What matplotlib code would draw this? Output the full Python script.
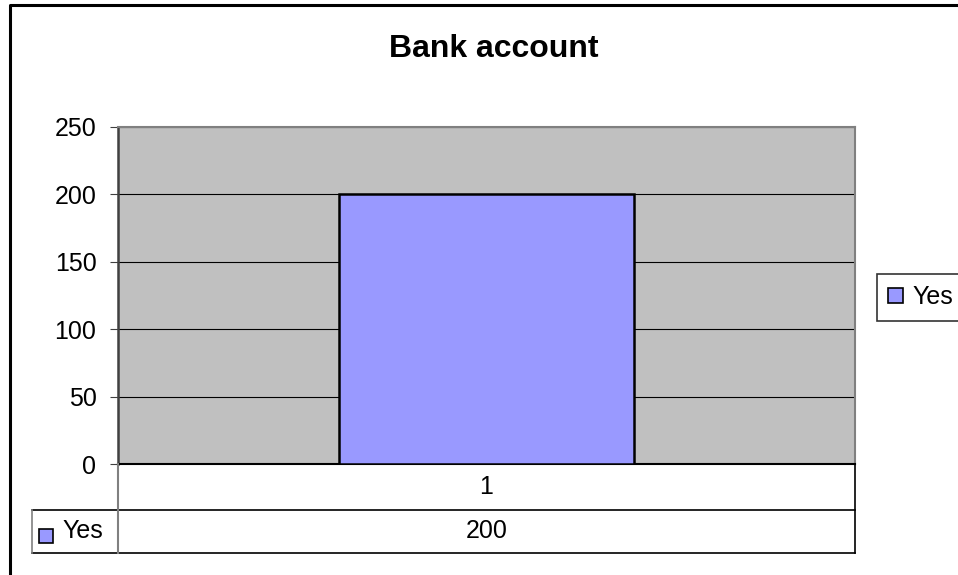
import matplotlib
matplotlib.use("Agg")
import matplotlib.pyplot as plt
from matplotlib.patches import Rectangle
from matplotlib.lines import Line2D

plt.rcParams['font.family'] = ['Liberation Sans', 'DejaVu Sans']

# Data
title = "Bank account"
categories = ["1"]
series_name = "Yes"
values = [200]
y_ticks = [0, 50, 100, 150, 200, 250]

W, H = 958, 575
DPI = 100
BAR_COLOR = "#9999FF"
PLOT_BG = "#C0C0C0"

fig = plt.figure(figsize=(W / DPI, H / DPI), dpi=DPI)
fig.patch.set_facecolor("white")

def fx(px):
    return px / W

def fy(py):
    return 1 - py / H

# Plot area in pixel bounds
L, R, T, B = 118, 855, 127, 464
ax = fig.add_axes([fx(L), fy(B), fx(R - L), (B - T) / H])
ax.set_facecolor(PLOT_BG)
x = list(range(1, len(categories) + 1))
bars = ax.bar(x, values, width=0.4, color=BAR_COLOR, edgecolor="black",
              linewidth=1.8, zorder=3, label=series_name)
ax.set_xlim(0.5, len(categories) + 0.5)
ax.set_ylim(y_ticks[0], y_ticks[-1])
ax.set_yticks(y_ticks)
ax.set_xticks([])
ax.yaxis.grid(True, color="black", linewidth=0.8, zorder=1)
ax.set_axisbelow(True)
ax.tick_params(axis="y", length=6, width=0.8, pad=9.5, labelsize=18,
               color="#404040")
for side in ("top", "right"):
    ax.spines[side].set_color("#808080")
    ax.spines[side].set_linewidth(1.5)
ax.spines["left"].set_color("#404040")
ax.spines["left"].set_linewidth(1.8)
ax.spines["bottom"].set_color("black")
ax.spines["bottom"].set_linewidth(1.5)

# Overlay in pixel coordinates for the frame and data table
ov = fig.add_axes([0, 0, 1, 1], zorder=-1)
ov.set_xlim(0, W)
ov.set_ylim(H, 0)
ov.axis("off")

# Chart area border (left and top edges)
ov.add_line(Line2D([10, 10, W + 5], [H + 5, 5, 5], color="black", linewidth=2.2))

# Data table
tab = fig.add_axes([0, 0, 1, 1], zorder=2)
tab.set_xlim(0, W)
tab.set_ylim(H, 0)
tab.axis("off")
row1, row2, row3 = B, 510, 553
tab.plot([32, R], [row2, row2], color="black", linewidth=1.2)
tab.plot([32, R], [row3, row3], color="black", linewidth=1.2)
tab.plot([32, 32], [row2, row3], color="#808080", linewidth=1.2)
tab.plot([L, L], [row1, row3], color="#808080", linewidth=1.5)
tab.plot([R, R], [row1, row3], color="black", linewidth=1.2)

col_w = (R - L) / len(categories)
for i, (cat, val) in enumerate(zip(categories, values)):
    cx = L + col_w * (i + 0.5)
    tab.text(cx, (row1 + row2) / 2, cat, ha="center", va="center", fontsize=18)
    tab.text(cx, (row2 + row3) / 2, str(val), ha="center", va="center", fontsize=18)
tab.add_patch(Rectangle((39, 529), 14, 14, facecolor=BAR_COLOR,
                        edgecolor="black", linewidth=1.2))
tab.text(62, (row2 + row3) / 2, series_name, ha="left", va="center", fontsize=18)

# Title
fig.text(fx(494), fy(57), title, ha="center", va="baseline",
         fontsize=23, fontweight="bold")

# Legend
leg = fig.legend(handles=[bars], labels=[series_name],
                 loc="upper left", bbox_to_anchor=(fx(877), fy(274)),
                 fontsize=18, frameon=True, fancybox=False, shadow=False,
                 handlelength=0.6, handleheight=0.6, handletextpad=0.35,
                 borderpad=0.45, borderaxespad=0)
leg.get_frame().set_edgecolor("black")
leg.get_frame().set_linewidth(1.2)
for h in leg.legend_handles:
    h.set_linewidth(1.2)

fig.savefig("out.png", dpi=DPI)
